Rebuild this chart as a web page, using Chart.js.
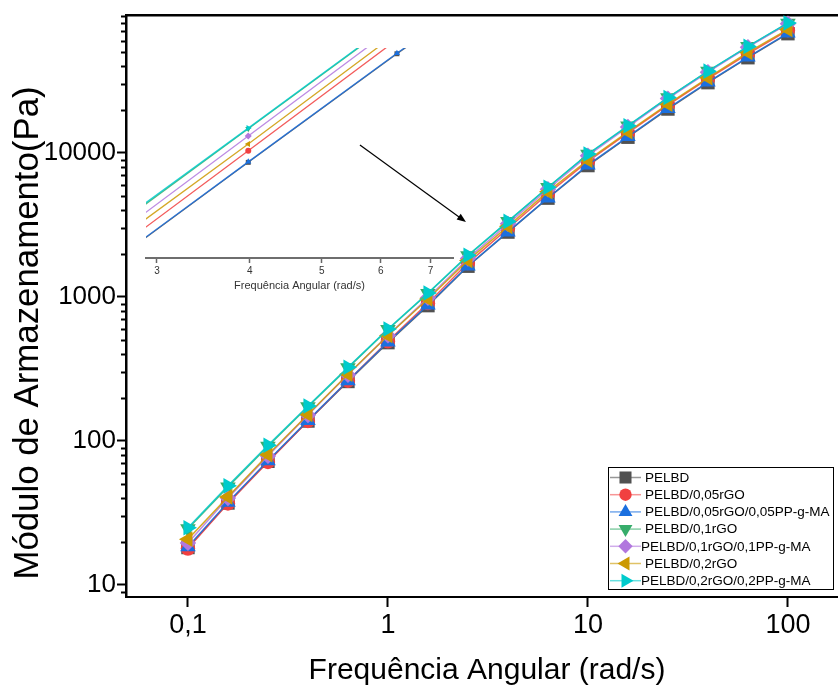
<!DOCTYPE html>
<html><head><meta charset="utf-8">
<script src="https://cdn.jsdelivr.net/npm/chart.js@4.4.0/dist/chart.umd.min.js"></script>
<style>
html,body{margin:0;padding:0;background:#fff;overflow:hidden}
#wrap{position:relative;width:838px;height:688px}
#main{position:absolute;left:0;top:0}
#inset{position:absolute;left:120px;top:30px}
</style></head><body>
<div id="wrap">
<canvas id="main" width="838" height="688"></canvas>
<canvas id="inset" width="360" height="270"></canvas>
</div>
<script>
// ---------- data ----------
const frequency = [0.1, 0.1585, 0.2512, 0.3981, 0.631, 1, 1.585, 2.512, 3.981, 6.31, 10, 15.85, 25.12, 39.81, 63.1, 100];
const seriesNames = ['PELBD', 'PELBD/0,05rGO', 'PELBD/0,05rGO/0,05PP-g-MA', 'PELBD/0,1rGO', 'PELBD/0,1rGO/0,1PP-g-MA', 'PELBD/0,2rGO', 'PELBD/0,2rGO/0,2PP-g-MA'];
const pelbd      = [18.2, 37.1, 72.3, 137.6, 259, 482, 871, 1636, 2823, 4858, 8180, 12870, 20200, 30800, 45900, 67400];
const rgo005     = [17.9, 36.8, 71.5, 137.6, 262, 492, 906, 1720, 2990, 5215, 8756, 13780, 21520, 32660, 48720, 71160];
const rgo005pp   = [18.4, 37.5, 73.0, 139, 262, 487, 880, 1640, 2830, 4870, 8260, 13000, 20400, 31100, 46400, 68100];
const rgo01      = [24.6, 48.0, 92.0, 173, 322, 594, 1058, 1935, 3340, 5760, 9800, 15400, 24200, 36900, 54800, 79600];
const rgo01pp    = [19.6, 40.1, 78.8, 151.5, 288, 541, 986, 1850, 3220, 5605, 9580, 15150, 23870, 36390, 54290, 79000];
const rgo02      = [20.8, 40.9, 80.3, 152.9, 290.8, 540.6, 968, 1795, 3095, 5385, 8921, 14040, 21830, 33280, 49880, 72190];
const rgo02pp    = [25.0, 48.8, 93.4, 175, 325, 599, 1065, 1950, 3350, 5780, 9830, 15470, 24280, 37010, 54980, 80020];
const seriesValues = [pelbd, rgo005, rgo005pp, rgo01, rgo01pp, rgo02, rgo02pp];

const xTickValues = [0.1, 1, 10, 100];
const xTickLabels = ['0,1', '1', '10', '100'];
const yTickValues = [10, 100, 1000, 10000];
const yTickLabels = ['10', '100', '1000', '10000'];
const insetTickValues = [3, 4, 5, 6, 7];
const insetTickLabels = ['3', '4', '5', '6', '7'];
const xTitle = 'Frequência Angular (rad/s)';
const yTitle = 'Módulo de Armazenamento(Pa)';
const arrowFrom = {x: 0.7244, y: 11365};
const arrowTo = {x: 2.455, y: 3318};

// ---------- styles ----------
const colors = ['#515151', '#F14040', '#1A6FDF', '#37AD6B', '#B177DE', '#CC9900', '#00CBCC'];
const lineColors = ['rgba(81,81,81,0.85)', 'rgba(241,64,64,0.85)', 'rgba(26,111,223,0.85)', 'rgba(55,173,107,0.85)', 'rgba(177,119,222,0.85)', 'rgba(204,153,0,0.85)', 'rgba(0,203,204,0.85)'];
const legendLineColors = ['rgba(81,81,81,0.6)', 'rgba(241,64,64,0.55)', 'rgba(26,111,223,0.6)', 'rgba(55,173,107,0.6)', 'rgba(177,119,222,0.6)', 'rgba(204,153,0,0.6)', 'rgba(0,203,204,0.6)'];
const styles = ['rect', 'circle', 'triangle', 'triangle', 'rectRot', 'triangle', 'triangle'];
const rotations = [0, 0, 0, 180, 0, 270, 90];
const mainRadii = [9.5, 7.2, 9, 9, 8.2, 9, 9];
const insetRadii = [3.5, 3, 3.5, 3.5, 3.5, 3.5, 3.5];
const FONT = "'Liberation Sans', Arial, sans-serif";

function buildDatasets(radii, lw, clip) {
  return seriesNames.map((name, i) => {
    const ds = {
      label: name,
      data: frequency.map((f, k) => ({x: f, y: seriesValues[i][k]})),
      borderColor: lineColors[i],
      backgroundColor: colors[i],
      pointBackgroundColor: colors[i],
      pointBorderColor: colors[i],
      pointBorderWidth: 0,
      pointStyle: styles[i],
      pointRotation: rotations[i],
      pointRadius: radii[i],
      borderWidth: lw,
      order: seriesNames.length - i,
      tension: 0,
      fill: false
    };
    if (clip !== undefined) ds.clip = clip;
    return ds;
  });
}

const noPad = s => { s.paddingLeft = 0; s.paddingRight = 0; };

const decorPlugin = {
  id: 'decor',
  afterDraw(chart) {
    const ctx = chart.ctx;
    const xs = chart.scales.x, ys = chart.scales.y;
    const area = chart.chartArea;
    ctx.save();
    // minor ticks on the y axis
    ctx.strokeStyle = '#000';
    ctx.lineWidth = 2;
    for (let d = 0; d <= 4; d++) {
      for (let m = 2; m <= 9; m++) {
        const v = m * Math.pow(10, d);
        if (v < ys.min || v > ys.max) continue;
        const py = Math.round(ys.getPixelForValue(v)) + 0.5;
        ctx.beginPath();
        ctx.moveTo(area.left - 5, py);
        ctx.lineTo(area.left, py);
        ctx.stroke();
      }
    }
    // axis titles
    ctx.fillStyle = '#000';
    ctx.font = "30px " + FONT;
    ctx.textAlign = 'center';
    ctx.textBaseline = 'alphabetic';
    ctx.fillText(xTitle, 487, 679);
    ctx.save();
    ctx.translate(38, 333);
    ctx.rotate(-Math.PI / 2);
    ctx.font = "34.8px " + FONT;
    ctx.fillText(yTitle, 0, 0);
    ctx.restore();
    // arrow
    const x1 = xs.getPixelForValue(arrowFrom.x), y1 = ys.getPixelForValue(arrowFrom.y);
    const x2 = xs.getPixelForValue(arrowTo.x), y2 = ys.getPixelForValue(arrowTo.y);
    const ang = Math.atan2(y2 - y1, x2 - x1);
    ctx.lineWidth = 1.2;
    ctx.strokeStyle = '#000';
    ctx.beginPath();
    ctx.moveTo(x1, y1);
    ctx.lineTo(x2 - 6 * Math.cos(ang), y2 - 6 * Math.sin(ang));
    ctx.stroke();
    ctx.fillStyle = '#000';
    ctx.beginPath();
    ctx.moveTo(x2, y2);
    ctx.lineTo(x2 - 9 * Math.cos(ang) + 3.5 * Math.sin(ang), y2 - 9 * Math.sin(ang) - 3.5 * Math.cos(ang));
    ctx.lineTo(x2 - 9 * Math.cos(ang) - 3.5 * Math.sin(ang), y2 - 9 * Math.sin(ang) + 3.5 * Math.cos(ang));
    ctx.closePath();
    ctx.fill();
    // legend
    const box = {x: 608.5, y: 467.5, w: 225, h: 122};
    ctx.fillStyle = '#fff';
    ctx.fillRect(box.x, box.y, box.w, box.h);
    ctx.strokeStyle = '#000';
    ctx.lineWidth = 1;
    ctx.strokeRect(box.x, box.y, box.w, box.h);
    ctx.font = "13.5px " + FONT;
    ctx.textBaseline = 'middle';
    ctx.textAlign = 'left';
    const textShift = [0, 0, 0, 0, -4, 0, -4];
    chart.data.datasets.forEach((ds, i) => {
      const cy = 477.5 + i * 17.2;
      ctx.strokeStyle = legendLineColors[i];
      ctx.lineWidth = 1.5;
      ctx.beginPath();
      ctx.moveTo(610, cy);
      ctx.lineTo(641, cy);
      ctx.stroke();
      ctx.fillStyle = colors[i];
      ctx.strokeStyle = colors[i];
      Chart.helpers.drawPoint(ctx, {pointStyle: styles[i], rotation: rotations[i], radius: mainRadii[i] - 1, borderWidth: 0}, 625.5, cy);
      ctx.fillStyle = '#000';
      ctx.fillText(ds.label, 645 + textShift[i], cy + 0.5);
    });
    ctx.restore();
  }
};

new Chart(document.getElementById('main'), {
  type: 'line',
  data: {datasets: buildDatasets(mainRadii, 1.5)},
  options: {
    responsive: false, animation: false, devicePixelRatio: 1,
    layout: {padding: 0, autoPadding: false},
    plugins: {legend: {display: false}, tooltip: {enabled: false}},
    scales: {
      x: {
        type: 'logarithmic', position: 'bottom', min: 0.049, max: 178,
        afterBuildTicks: s => { s.ticks = xTickValues.map(v => ({value: v})); },
        afterFit: s => { s.height = 91; noPad(s); },
        grid: {drawOnChartArea: false, drawTicks: true, tickLength: 10, tickColor: '#000', tickWidth: 2},
        border: {display: true, color: '#000', width: 2},
        ticks: {autoSkip: false, maxRotation: 0, padding: 2, color: '#000',
          font: {family: FONT, size: 27},
          callback: (v, i) => xTickLabels[i]}
      },
      xTop: {
        type: 'logarithmic', position: 'top', min: 0.049, max: 178,
        afterFit: s => { s.height = 15; noPad(s); },
        grid: {drawOnChartArea: false, drawTicks: false},
        border: {display: true, color: '#000', width: 2.5},
        ticks: {display: false}
      },
      y: {
        type: 'logarithmic', position: 'left', min: 8.25, max: 90850,
        afterBuildTicks: s => { s.ticks = yTickValues.map(v => ({value: v})); },
        afterFit: s => { s.width = 126; s.paddingTop = 0; s.paddingBottom = 0; },
        grid: {drawOnChartArea: false, drawTicks: true, tickLength: 9, tickColor: '#000', tickWidth: 2},
        border: {display: true, color: '#000', width: 2.5},
        ticks: {autoSkip: false, padding: 1, color: '#000',
          font: {family: FONT, size: 26},
          callback: (v, i) => yTickLabels[i]}
      }
    }
  },
  plugins: [decorPlugin]
});

new Chart(document.getElementById('inset'), {
  type: 'line',
  data: {datasets: buildDatasets(insetRadii, 1.3, 0)},
  options: {
    responsive: false, animation: false, devicePixelRatio: 1,
    layout: {padding: {left: 26, top: 18, right: 27, bottom: 0}, autoPadding: false},
    plugins: {legend: {display: false}, tooltip: {enabled: false}},
    scales: {
      x: {
        type: 'logarithmic', position: 'bottom', min: 2.945, max: 7.507,
        afterBuildTicks: s => { s.ticks = insetTickValues.map(v => ({value: v})); },
        afterFit: s => { s.height = 42; noPad(s); },
        grid: {drawOnChartArea: false, drawTicks: true, tickLength: 5, tickColor: '#666', tickWidth: 1.5},
        border: {display: true, color: '#6e6e6e', width: 2},
        ticks: {autoSkip: false, maxRotation: 0, padding: 2, color: '#333',
          font: {family: FONT, size: 10},
          callback: (v, i) => insetTickLabels[i]},
        title: {display: true, text: xTitle, color: '#333',
          font: {family: FONT, size: 11}, padding: {top: 0, bottom: 7}}
      },
      y: {
        type: 'logarithmic', display: false, min: 1750, max: 5000
      }
    }
  }
});
</script>
</body></html>
